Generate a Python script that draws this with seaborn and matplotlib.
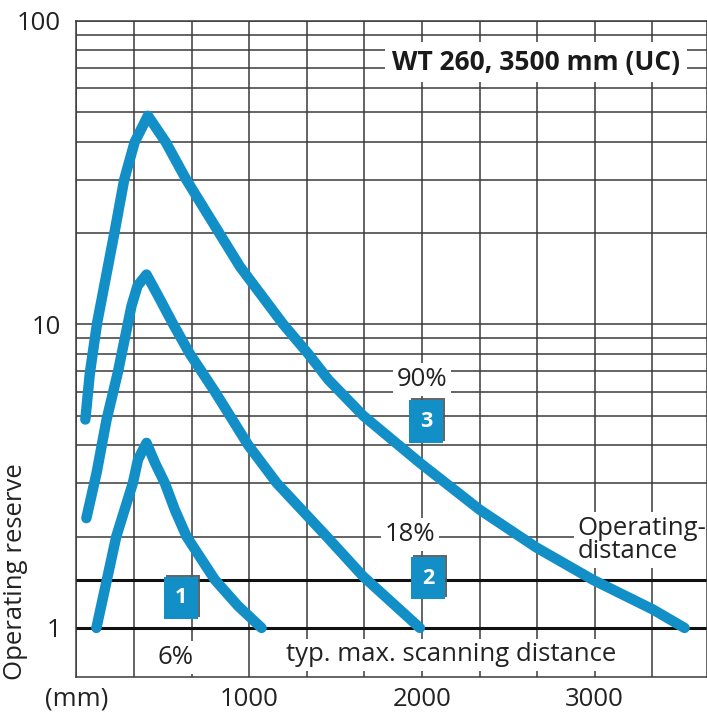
import matplotlib
matplotlib.use("Agg")
import matplotlib.pyplot as plt
import matplotlib.ticker as mticker
import matplotlib.patheffects as pe
import seaborn as sns
import pandas as pd

# values: scanning distance (mm) vs. operating reserve
dist_6 = [116, 231, 327, 357, 406, 455, 512, 570, 638, 802, 937, 1072]
reserve_6 = [1.0, 2.0, 3.0, 3.59, 4.07, 3.5, 3.0, 2.45, 2.0, 1.44, 1.18, 1.0]

dist_18 = [58, 117, 175, 240, 319, 354, 406, 474, 561, 657, 802, 889, 995, 1160,
           1449, 1659, 1988]
reserve_18 = [2.30, 3.24, 4.86, 6.94, 11.5, 13.4, 14.6, 12.4, 10.0, 8.0, 6.0, 5.0, 4.0,
              3.0, 2.0, 1.48, 1.0]

dist_90 = [52, 78, 120, 220, 277, 337, 414, 518, 636, 827, 947, 1198, 1342, 1458, 1661,
           1988, 2335, 2663, 2990, 3337, 3520]
reserve_90 = [4.86, 6.9, 10.1, 20, 30, 39.8, 48.7, 39.8, 30, 20, 15.5, 10.0, 8.0, 6.58,
              5.0, 3.5, 2.45, 1.84, 1.44, 1.15, 1.0]

curve_names = ["6%", "18%", "90%"]
x_ticks = [0, 1000, 2000, 3000]
x_labels = ["(mm)", "1000", "2000", "3000"]
y_ticks = [1, 10, 100]
y_labels = ["1", "10", "100"]

BLUE = "#138fc8"
TXT = "#222222"
FS = 18.5

df = pd.concat([
    pd.DataFrame({"dist": dist_6, "reserve": reserve_6, "curve": curve_names[0]}),
    pd.DataFrame({"dist": dist_18, "reserve": reserve_18, "curve": curve_names[1]}),
    pd.DataFrame({"dist": dist_90, "reserve": reserve_90, "curve": curve_names[2]}),
])

sns.set_style("white")
plt.rcParams["font.family"] = ["Open Sans", "DejaVu Sans"]

fig = plt.figure(figsize=(7.07, 7.21), dpi=100)
ax = fig.add_axes([0.108, 0.061, 0.892, 0.910])

ax.set_yscale("log")
ax.set_xlim(0, 3650)
ax.set_ylim(0.689, 100)

ax.set_xticks(x_ticks)
ax.set_xticklabels(x_labels)
ax.xaxis.set_minor_locator(mticker.MultipleLocator(1000 / 3))
ax.set_yticks(y_ticks)
ax.set_yticklabels(y_labels)
ax.yaxis.set_minor_locator(mticker.FixedLocator(
    [m * d for d in (1, 10) for m in range(2, 10)]))
ax.yaxis.set_minor_formatter(mticker.NullFormatter())
ax.tick_params(which="both", length=0, labelsize=FS, colors=TXT)
ax.tick_params(axis="y", pad=11)
ax.tick_params(axis="x", pad=7)

ax.grid(which="both", color="#3a3a3a", lw=1.1)
ax.set_axisbelow(True)
for s in ax.spines.values():
    s.set_color("#3a3a3a")
    s.set_linewidth(1.1)

# heavy reference lines
ax.axhline(1.0, color="#111111", lw=2.2, zorder=1.5)
ax.axhline(1.44, color="#111111", lw=2.2, zorder=1.5)

sns.lineplot(data=df, x="dist", y="reserve", hue="curve", units="curve",
             estimator=None, sort=False, legend=False, ax=ax,
             palette=[BLUE] * 3, lw=7.5, solid_capstyle="round",
             solid_joinstyle="round", zorder=3)

ax.set_xlabel("")
ax.set_ylabel("Operating reserve", fontsize=FS, color=TXT)
ax.yaxis.set_label_coords(-0.077, 0.16)

white = dict(boxstyle="square,pad=0.15", fc="white", ec="none")
ax.text(2660, 73, "WT 260, 3500 mm (UC)", fontsize=19, fontweight="bold",
        ha="center", va="center", color="#1a1a1a",
        bbox=dict(boxstyle="square,pad=0.25", fc="white", ec="none"), zorder=4)
ax.text(572, 0.80, "6%", fontsize=FS, ha="center", va="center", color=TXT,
        bbox=white, zorder=4)
ax.text(2168, 0.815, "typ. max. scanning distance", fontsize=FS, ha="center",
        va="center", color=TXT, bbox=white, zorder=4)
ax.text(1931, 2.03, "18%", fontsize=FS, ha="center", va="center", color=TXT,
        bbox=white, zorder=4)
ax.text(2000, 6.58, "90%", fontsize=FS, ha="center", va="center", color=TXT,
        bbox=white, zorder=4)
ax.text(2900, 1.95, "Operating-\ndistance", fontsize=FS, ha="left", va="center",
        color=TXT, linespacing=0.9, bbox=white, zorder=2.5)

for num, bx, by in [("1", 607, 1.256), ("2", 2035, 1.46), ("3", 2023, 4.79)]:
    t = ax.text(bx, by, num, fontsize=15.5, fontweight="bold", color="white",
                ha="center", va="center", zorder=5,
                bbox=dict(boxstyle="square,pad=0.5", fc=BLUE, ec="none"))
    t.get_bbox_patch().set_path_effects([
        pe.withSimplePatchShadow(offset=(1.5, 1.5), shadow_rgbFace="#555555", alpha=0.9),
        pe.Normal()])

fig.savefig("out.png", dpi=100)
